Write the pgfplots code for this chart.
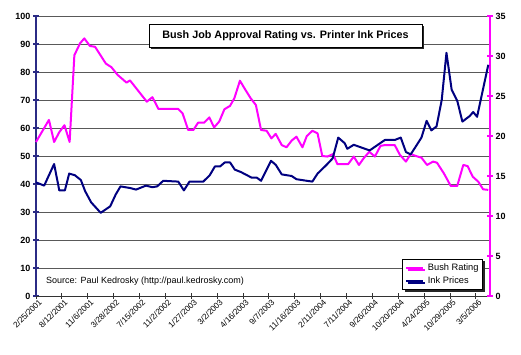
\documentclass[border=0pt]{standalone}
\usepackage{pgfplots}
\pgfplotsset{compat=1.18}
\usepackage{fontspec}
\setmainfont{Liberation Sans}
\usetikzlibrary{shadows}
\definecolor{bushmag}{HTML}{FF00FF}
\definecolor{inknavy}{HTML}{000080}
\definecolor{axnavy}{HTML}{2B2B85}
\begin{document}
\begin{tikzpicture}
\path[use as bounding box] (-36pt,-59pt) rectangle (485pt,296pt);
\pgfplotsset{
  common/.style={
    scale only axis, width=454pt, height=280pt,
    xmin=0, xmax=105.3,
    /pgf/number format/assume math mode=true,
    tick align=center, major tick length=6pt,
    clip=false,
  }
}
\begin{axis}[common,
  ymin=0, ymax=100,
  axis y line*=left, axis x line*=bottom,
  ytick={0,10,...,100},
  ymajorgrids, grid style={black!65, line width=0.7pt},
  y axis line style={axnavy, line width=1.6pt, -},
  x axis line style={black!80, line width=0.8pt, -},
  ytick style={axnavy, line width=1.2pt},
  xtick style={black!80, line width=0.8pt},
  yticklabel style={font=\bfseries\fontsize{9}{9}\selectfont, xshift=1pt},
  xtick={0,6,...,102},
  xticklabels={2/25/2001,8/12/2001,11/6/2001,3/28/2002,7/15/2002,11/2/2002,1/27/2003,3/2/2003,4/16/2003,9/7/2003,11/16/2003,2/11/2004,7/11/2004,9/26/2004,10/20/2004,4/24/2005,10/29/2005,3/5/2006},
  xticklabel style={rotate=45, anchor=north east, font=\fontsize{8.2}{8.2}\selectfont, xshift=3pt, yshift=0pt, inner sep=1pt},
]
\addplot[bushmag, line width=2pt, line join=round] coordinates {
(0,55)(3,62.9)(4.2,55)(5.4,58.5)(6.6,61)(7.8,55)(8.9,86)(10.2,90.2)(11.2,92)(12.5,89.3)(13.7,89)(16.2,83)(17.5,81.7)(18.9,79)(21,76.2)(21.8,77)(25.7,69.4)(27,71)(28.4,66.8)(33,66.8)(34,65.2)(35.3,59.3)(36.5,59.3)(37.6,61.9)(39,61.9)(40.2,63.8)(41.3,60.2)(42.5,62.3)(43.7,66.7)(45,67.9)(46,70.6)(47.3,76.9)(48.5,73.8)(49.8,70.6)(51,68.2)(52.2,59.3)(53.5,59)(54.6,56.3)(55.6,57.9)(57,53.9)(58.1,53.1)(59.3,55.5)(60.4,56.9)(61.8,53.1)(62.8,57.1)(64.1,59)(65.3,58.1)(66.4,50)(67.6,49.8)(68.9,50.7)(69.9,47.1)(71.6,47.1)(72.4,47.1)(73.7,49.8)(74.9,46.8)(76,49.2)(77.3,51.5)(78.6,49.8)(79.9,53.6)(80.9,53.9)(83.2,53.9)(84.4,50.4)(85.8,48)(86.9,50.7)(88.1,50)(89.4,49.4)(90.7,46.8)(92.1,48)(93,47.6)(94.6,43.8)(96.2,39.3)(97.7,39.3)(99.1,46.8)(100.1,46.4)(101.3,42.6)(102.6,40.8)(103.7,38.1)(104.9,37.9)
};
\node[anchor=west, inner sep=0pt, font=\fontsize{9}{9}\selectfont] at (rel axis cs:0.022,0.054) {Source: Paul Kedrosky (http://paul.kedrosky.com)};
\end{axis}
\begin{axis}[common,
  ymin=0, ymax=35,
  axis y line*=right, axis x line=none,
  ytick={0,5,...,35},
  y axis line style={bushmag, line width=1.6pt, -},
  ytick style={bushmag, line width=1.2pt},
  yticklabel style={font=\bfseries\fontsize{9}{9}\selectfont, xshift=-1pt},
  legend style={at={(rel axis cs:0.9846,0.0214)}, anchor=south east,
    draw=black, line width=0.9pt, fill=white,
    drop shadow={shadow xshift=2pt, shadow yshift=-2pt, fill=black!85, opacity=1},
    font=\fontsize{9.3}{10.5}\selectfont, row sep=1pt, inner xsep=2pt, inner ysep=2.5pt,
    /tikz/every odd column/.append style={column sep=2pt}},
  legend cell align=left,
  legend image post style={line width=2pt},
]
\addlegendimage{bushmag, line width=2pt}
\addlegendentry{Bush Rating}
\addplot[inknavy, line width=2pt, line join=round] coordinates {
(0,14.2)(1.9,13.8)(4.2,16.5)(5.4,13.2)(6.7,13.2)(7.7,15.3)(9,15.1)(10.4,14.5)(11.4,13.1)(12.8,11.7)(15,10.4)(17.2,11.2)(18.5,12.7)(19.6,13.7)(21.8,13.5)(23.2,13.3)(25.5,13.8)(27,13.6)(28.1,13.7)(29.5,14.4)(33,14.3)(34.3,13.2)(35.6,14.3)(38.8,14.3)(40.3,15.1)(41.5,16.2)(42.7,16.2)(43.8,16.7)(45,16.7)(46.1,15.8)(47.5,15.5)(50,14.8)(51.2,14.8)(52.2,14.4)(54.5,16.9)(55.6,16.4)(57,15.2)(59.3,15.0)(60.4,14.6)(62.8,14.4)(64.1,14.3)(65.3,15.3)(67.4,16.4)(68.8,17.2)(70.1,19.8)(71.6,19.1)(72.2,18.4)(73.7,18.9)(76.3,18.4)(77.4,18.2)(80.9,19.5)(83.2,19.5)(84.6,19.8)(85.8,18.0)(86.9,17.7)(88.1,18.7)(89.4,19.8)(90.6,21.9)(91.7,20.7)(92.9,21.2)(94.1,24.5)(95.2,30.4)(96.4,25.8)(97.7,24.4)(98.9,21.8)(100.6,22.5)(101.4,23.0)(102.3,22.4)(104.9,28.9)
};
\addlegendentry{Ink Prices}
\node[draw=black, line width=0.9pt, fill=white, minimum width=273pt, minimum height=23pt,
  drop shadow={shadow xshift=2pt, shadow yshift=-2pt, fill=black!85, opacity=1},
  font=\bfseries\fontsize{10.8}{10.8}\selectfont] at (rel axis cs:0.5496,0.930) {Bush Job Approval Rating vs. Printer Ink Prices};
\end{axis}
\end{tikzpicture}
\end{document}
